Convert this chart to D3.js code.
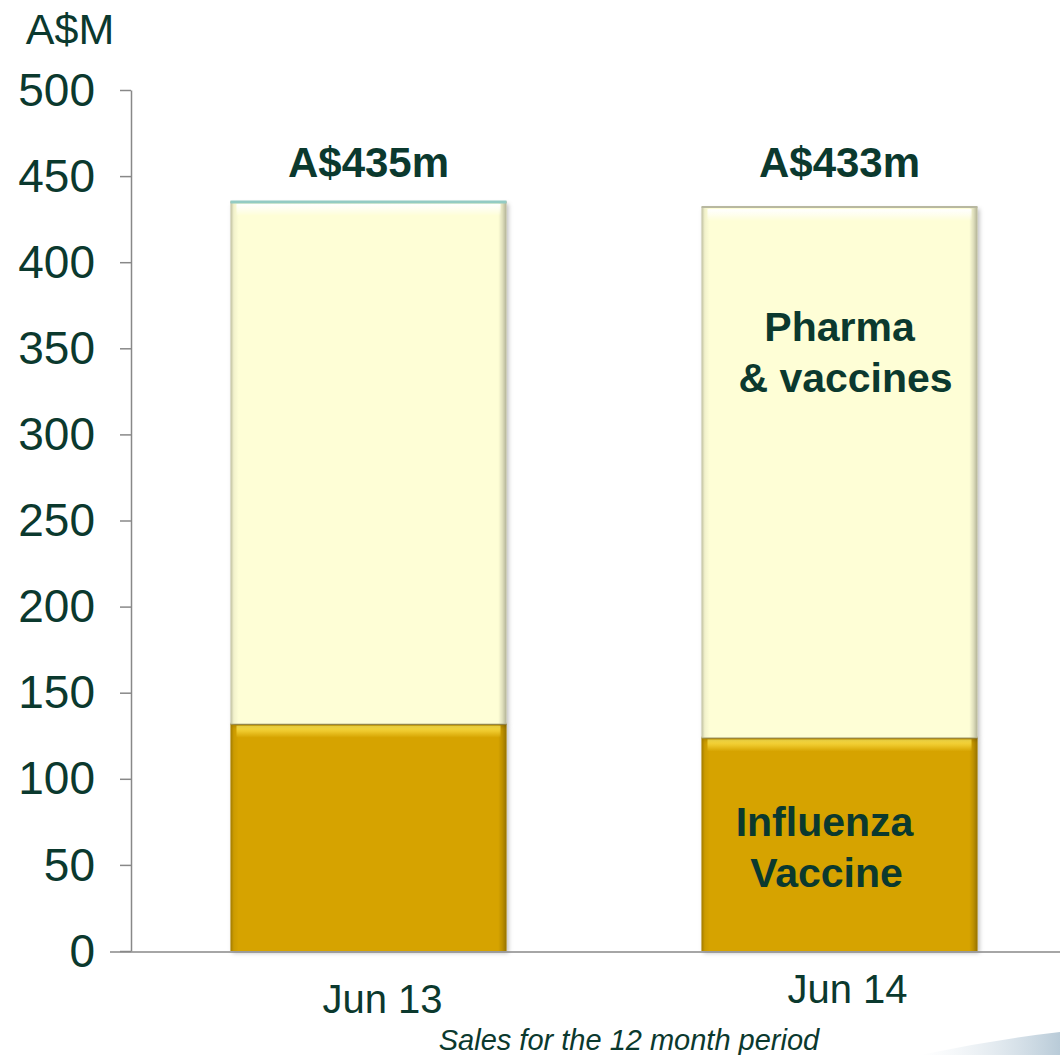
<!DOCTYPE html>
<html><head><meta charset="utf-8">
<script src="https://cdn.jsdelivr.net/npm/d3@7"></script>
<style>html,body{margin:0;padding:0;background:#fff;}svg{display:block;font-family:Arial,"Liberation Sans",sans-serif;}</style>
</head><body>
<svg id="c" width="1060" height="1055"></svg>
<script>
const categories = ["Jun 13", "Jun 14"];
const influenza = [132, 124];
const pharma = [303, 308];
const totalLabels = ["A$435m", "A$433m"];
const yTicks = [0, 50, 100, 150, 200, 250, 300, 350, 400, 450, 500];
const seriesNames = ["Influenza Vaccine", "Pharma & vaccines"];

const svg = d3.select("#c");
const txt = "#0b392e";
const y = d3.scaleLinear().domain([0, 500]).range([951, 90]);
const x = d3.scaleBand().domain(categories).range([133, 1075]).paddingInner(0.414).paddingOuter(0.207);

const defs = svg.append("defs");
const f = defs.append("filter").attr("id","sh").attr("x","-10%").attr("y","-10%").attr("width","120%").attr("height","120%");
f.append("feDropShadow").attr("dx",2).attr("dy",2).attr("stdDeviation",2).attr("flood-color","#000").attr("flood-opacity",0.25);
const side = defs.append("linearGradient").attr("id","side").attr("x1",0).attr("x2",1).attr("y1",0).attr("y2",0);
[[0,"#000",0.25],[0.012,"#000",0.05],[0.03,"#000",0],[0.97,"#000",0],[0.985,"#000",0.12],[1,"#000",0.3]].forEach(s=>side.append("stop").attr("offset",s[0]).attr("stop-color",s[1]).attr("stop-opacity",s[2]));
function topGrad(id,color){
  const g = defs.append("linearGradient").attr("id",id).attr("x1",0).attr("x2",0).attr("y1",0).attr("y2",1);
  [[0,color,1],[0.45,color,0.6],[1,color,0]].forEach(s=>g.append("stop").attr("offset",s[0]).attr("stop-color",s[1]).attr("stop-opacity",s[2]));
}
topGrad("hiP","#ffffff");
topGrad("hiI","#ffe34a");

// y axis
const yAxis = d3.axisLeft(y).tickValues(yTicks).tickSize(11).tickSizeOuter(0).tickPadding(25);
const ya = svg.append("g").attr("transform","translate(131,0)").call(yAxis);
ya.select(".domain").attr("stroke","#888").attr("stroke-width",1.5);
ya.selectAll(".tick line").attr("stroke","#888").attr("stroke-width",1.5);
ya.selectAll(".tick text").attr("fill",txt).attr("font-size",46).attr("font-family","Arial, 'Liberation Sans', sans-serif").attr("dy","0.33em");

svg.append("text").attr("x",70).attr("y",44).attr("text-anchor","middle").attr("fill",txt).attr("font-size",43).text("A$M");

// bars
const stacks = [
  {vals: influenza, base: categories.map(()=>0), color:"#d6a304", hi:"url(#hiI)", edge:"#a8a070"},
  {vals: pharma, base: influenza, color:"#fefed6", hi:"url(#hiP)", edge:"#b8b8a0"}
];
stacks.forEach(s=>{
  const g = svg.append("g");
  categories.forEach((c,i)=>{
    const y0 = y(s.base[i]), y1 = y(s.base[i]+s.vals[i]);
    const bx = x(c), bw = x.bandwidth();
    g.append("rect").attr("x",bx).attr("y",y1).attr("width",bw).attr("height",y0-y1).attr("fill",s.color).attr("filter","url(#sh)");
    g.append("rect").attr("x",bx).attr("y",y1).attr("width",bw).attr("height",y0-y1).attr("fill","url(#side)");
    g.append("rect").attr("x",bx+6).attr("y",y1+2).attr("width",bw-12).attr("height",12).attr("fill",s.hi);
    g.append("line").attr("x1",bx).attr("x2",bx+bw).attr("y1",y1).attr("y2",y1).attr("stroke",s.edge).attr("stroke-width",2);
  });
});
// teal top edge on first bar
svg.append("line").attr("x1",x(categories[0])).attr("x2",x(categories[0])+x.bandwidth())
  .attr("y1",y(influenza[0]+pharma[0])).attr("y2",y(influenza[0]+pharma[0])).attr("stroke","#93cbc3").attr("stroke-width",3);

// x axis line
svg.append("line").attr("x1",110).attr("x2",1060).attr("y1",y(0)+1).attr("y2",y(0)+1).attr("stroke","#888").attr("stroke-width",1.5);

// total labels
categories.forEach((c,i)=>{
  svg.append("text").attr("x",x(c)+x.bandwidth()/2).attr("y",177).attr("text-anchor","middle")
    .attr("fill",txt).attr("font-size",42).attr("font-weight","bold").text(totalLabels[i]);
});

// category labels
const catY = [1013, 1003];
const catDx = [14, 8];
categories.forEach((c,i)=>{
  svg.append("text").attr("x",x(c)+x.bandwidth()/2+catDx[i]).attr("y",catY[i]).attr("text-anchor","middle")
    .attr("fill",txt).attr("font-size",40).text(c);
});

// series labels in second bar
const cx2 = x(categories[1]) + x.bandwidth()/2;
const lab = (t,dx,yy)=>svg.append("text").attr("x",cx2+dx).attr("y",yy).attr("text-anchor","middle").attr("fill",txt).attr("font-size",41).attr("font-weight","bold").text(t);
lab("Pharma",0,341);
lab("& vaccines",6,392);
lab("Influenza",-15,836);
lab("Vaccine",-13,887);

// footnote
svg.append("text").attr("x",629).attr("y",1050).attr("text-anchor","middle").attr("fill",txt).attr("font-size",29).attr("font-style","italic").text("Sales for the 12 month period");

// decorative swoosh bottom-right
const sw = defs.append("linearGradient").attr("id","sw").attr("x1",0).attr("x2",1);
sw.append("stop").attr("offset",0).attr("stop-color","#dfe8ef").attr("stop-opacity",0);
sw.append("stop").attr("offset",1).attr("stop-color","#b9cbd8").attr("stop-opacity",1);
svg.append("path").attr("d","M920,1055 Q990,1040 1060,1032 L1060,1055 Z").attr("fill","url(#sw)");
</script>
</body></html>
